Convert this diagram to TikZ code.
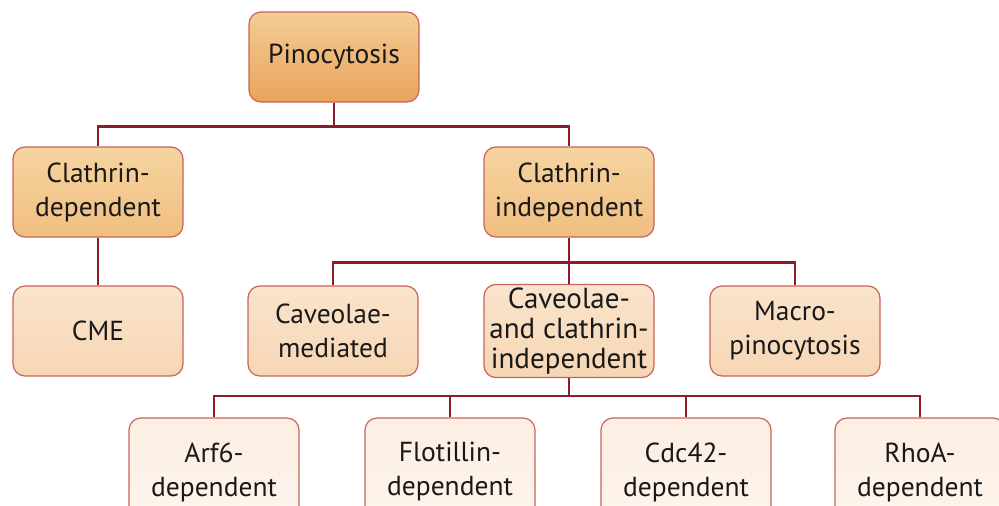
\documentclass[tikz,border=0pt]{standalone}
\usepackage{fontspec}
\setmainfont{PT Sans}
\usetikzlibrary{positioning,calc}
\definecolor{linkred}{HTML}{8E1B2C}
\definecolor{edgered}{HTML}{C8645A}
\tikzset{  box/.style={draw=edgered,line width=1.2pt,rounded corners=12pt,minimum width=170pt,minimum height=90pt,align=center,text=black!90,font=\fontsize{27.5}{34}\selectfont},
  lvltwo/.style={box,top color={rgb,255:red,246;green,212;blue,160},bottom color={rgb,255:red,240;green,190;blue,128}},
  lvlthree/.style={box,top color={rgb,255:red,250;green,228;blue,204},bottom color={rgb,255:red,246;green,214;blue,180}},
  lvlfour/.style={box,minimum height=108pt,top color={rgb,255:red,252;green,238;blue,226},bottom color={rgb,255:red,253;green,245;blue,238}},
  link/.style={draw=linkred,line width=2.6pt} }

\begin{document}
\begin{tikzpicture}[x=1pt,y=-1pt]
   \useasboundingbox[fill=white] (0,0) rectangle (999,506);
   \node[box,top color={rgb,255:red,245;green,204;blue,148},bottom color={rgb,255:red,232;green,164;blue,92}] (pino) at (334,57) {Pinocytosis};
   \node[lvltwo] (cdep) at (98,192) {Clathrin-\\dependent};
   \node[lvltwo] (cindep) at (569,192) {Clathrin-\\independent};
   \node[lvlthree] (cme) at (98,331) {CME};
   \node[lvlthree] (cavm) at (333,331) {Caveolae-\\mediated};
   \node[lvlthree,font=\fontsize{29}{30}\selectfont] (cci) at (569,331) {Caveolae-\\and clathrin-\\independent};
   \node[lvlthree] (macro) at (795,331) {Macro-\\pinocytosis};
   \node[lvlfour] (arf) at (214,472) {Arf6-\\dependent};
   \node[lvlfour] (flot) at (450,472) {Flotillin-\\dependent};
   \node[lvlfour] (cdc) at (686,472) {Cdc42-\\dependent};
   \node[lvlfour] (rhoa) at (920,472) {RhoA-\\dependent};
   % tree links
   \draw[link] (pino.south) -- ++(0,24) -| (cdep.north);
   \draw[link] (pino.south) -- ++(0,24) -| (cindep.north);
   \draw[link] (cdep) -- (cme);
   \draw[link] (cindep.south) -- ++(0,25) -| (cavm.north);
   \draw[link] (cindep.south) -- (cci.north);
   \draw[link] (cindep.south) -- ++(0,25) -| (macro.north);
   \draw[link] (cci.south) -- ++(0,18) -| (arf.north);
   \draw[link] (cci.south) -- ++(0,18) -| (flot.north);
   \draw[link] (cci.south) -- ++(0,18) -| (cdc.north);
   \draw[link] (cci.south) -- ++(0,18) -| (rhoa.north);
  \end{tikzpicture}
\end{document}
